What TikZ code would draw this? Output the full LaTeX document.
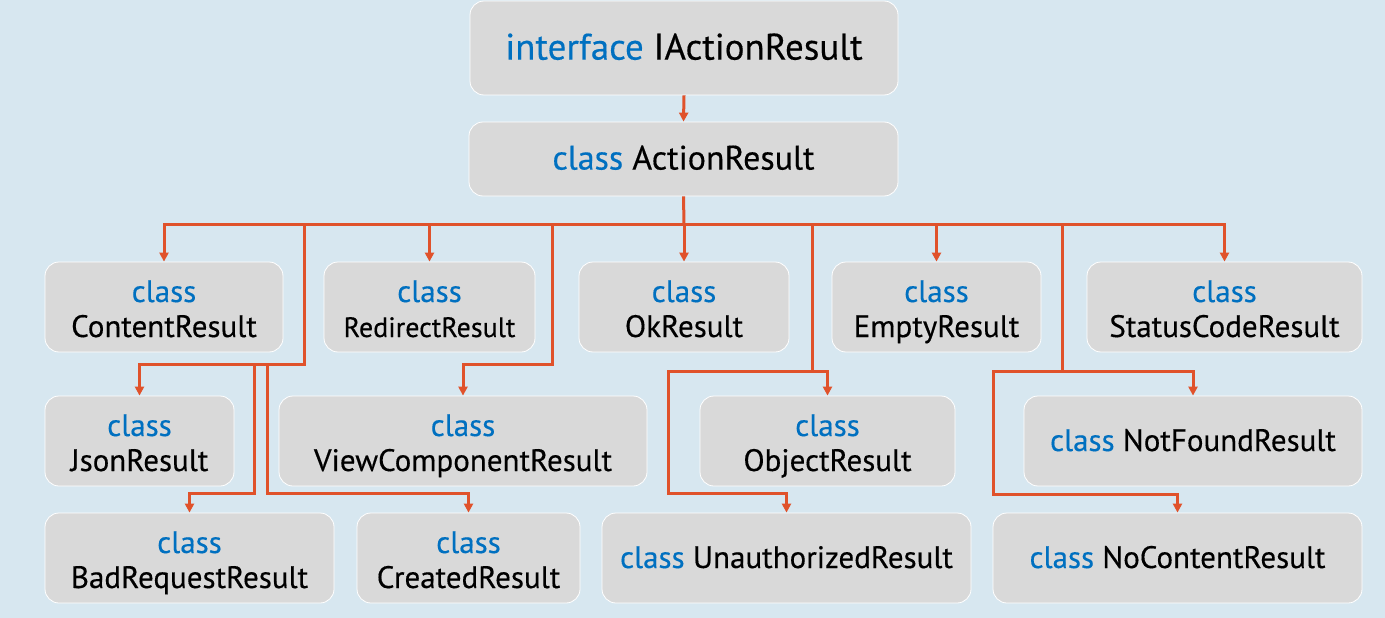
\documentclass[tikz,border=0pt]{standalone}
\usepackage{fontspec}
\setmainfont{PT Sans}[FakeBold=0.35]
\usepackage{tikz}
\usetikzlibrary{positioning, arrows.meta}
\definecolor{bgblue}{HTML}{D7E7F0}
\definecolor{boxgray}{HTML}{D9D9D9}
\definecolor{kwblue}{HTML}{0070C0}
\definecolor{linkred}{HTML}{E0522B}
\newcommand{\Kw}[1]{\textcolor{kwblue}{#1}}
\newcommand{\Small}[1]{{\fontsize{28}{35}\selectfont #1}}
\newcommand{\Prop}{\rule[-3pt]{0pt}{26pt}}
\newcommand{\Two}[2]{\rule{0pt}{34pt}\Kw{#1}\\#2\rule[-9pt]{0pt}{0pt}}

\begin{document}
\begin{tikzpicture}[
  x=1pt, y=-1pt,
  cls/.style={draw=white, line width=0.8pt, rounded corners=14pt,
              fill=boxgray, inner sep=0pt, align=center,
              minimum height=90pt,
              font=\fontsize{31}{35}\selectfont},
  wire/.style={draw=linkred, line width=3pt},
  arr/.style={wire, -{Triangle[length=9pt, width=9pt]}}
]
\fill[bgblue] (0,0) rectangle (1385,618);

% top of the hierarchy
\node[cls, minimum width=428, minimum height=94,
      font=\fontsize{37}{42}\selectfont] (iface) at (684,48)
  {\Prop\Kw{interface} IActionResult};
\node[cls, minimum width=429, minimum height=74,
      font=\fontsize{34}{40}\selectfont] (action) at (683.5,159)
  {\Prop\Kw{class} ActionResult};

% first row
\node[cls, minimum width=238] (content) at (164,307) {\Two{class}{ContentResult}};
\node[cls, minimum width=211] (redirect) at (429.5,307) {\Two{class}{\Small{RedirectResult}}};
\node[cls, minimum width=210] (ok) at (684,307) {\Two{class}{OkResult}};
\node[cls, minimum width=209] (empty) at (936.5,307) {\Two{class}{EmptyResult}};
\node[cls, minimum width=275] (status) at (1224.5,307) {\Two{class}{StatusCodeResult}};

% second row
\node[cls, minimum width=189] (json) at (139.5,441) {\Two{class}{JsonResult}};
\node[cls, minimum width=368] (view) at (463,441) {\Two{class}{ViewComponentResult}};
\node[cls, minimum width=255] (object) at (827.5,441) {\Two{class}{ObjectResult}};
\node[cls, minimum width=338] (notfound) at (1193,441) {\Prop\Kw{class} NotFoundResult};

% third row
\node[cls, minimum width=289] (badreq) at (189.5,558) {\Two{class}{BadRequestResult}};
\node[cls, minimum width=223] (created) at (468.5,558) {\Two{class}{CreatedResult}};
\node[cls, minimum width=369] (unauth) at (786.5,558) {\Prop\Kw{class} UnauthorizedResult};
\node[cls, minimum width=369] (nocontent) at (1177.5,558) {\Prop\Kw{class} NoContentResult};

\coordinate (bus) at (684,224);
\coordinate (jA) at (304,364);
\coordinate (jB) at (254,493);
\coordinate (jC) at (267,493);
\coordinate (jD) at (552,364);
\coordinate (jE) at (812,371);
\coordinate (jF) at (668,493);
\coordinate (jG) at (1062,371);
\coordinate (jH) at (993,494);

\draw[arr] (iface.south) -- (action.north);
\draw[wire] (action.south) -- (bus);
\draw[arr] (bus) -| (content.north);
\draw[arr] (bus) -| (status.north);
\foreach \n in {redirect, ok, empty}
  \draw[arr] (\n.north |- bus) -- (\n.north);

\draw[arr] (jA |- bus) -- (jA) -| (json.north);
\draw[arr] (jB |- jA) -- (jB) -| (badreq.north);
\draw[arr] (jC |- jA) -- (jC) -| (created.north);
\draw[arr] (jD |- bus) -- (jD) -| (view.north);
\draw[arr] (jE |- bus) -- (jE) -| (object.north);
\draw[arr] (jE) -| (jF) -| (unauth.north);
\draw[arr] (jG |- bus) -- (jG) -| (notfound.north);
\draw[arr] (jG) -| (jH) -| (nocontent.north);
\end{tikzpicture}
\end{document}
